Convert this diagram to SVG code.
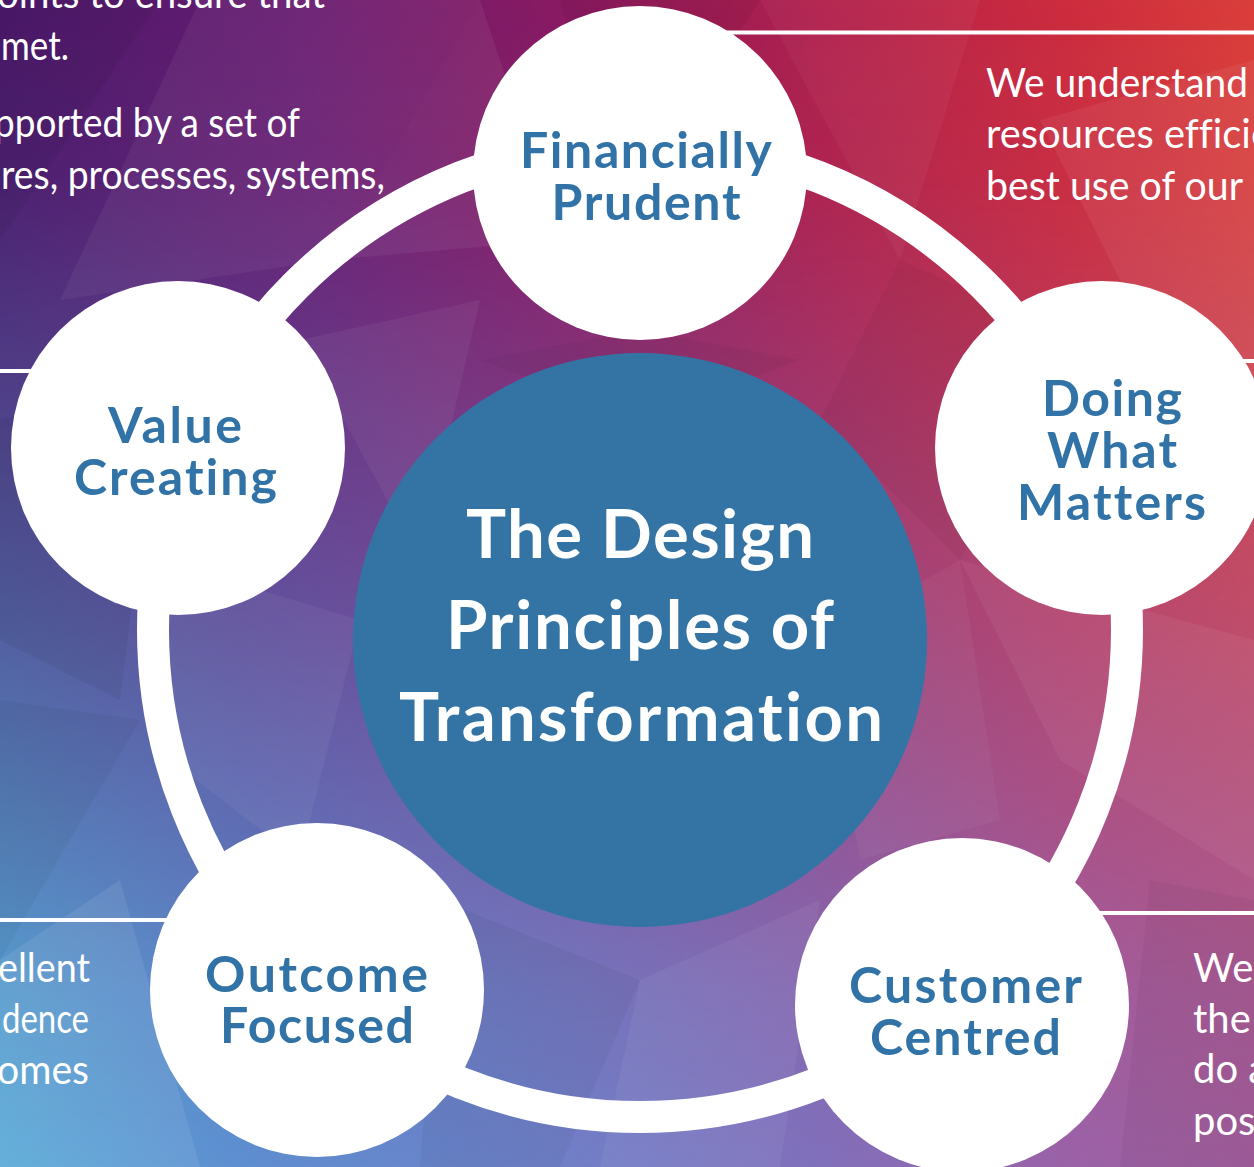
<svg xmlns="http://www.w3.org/2000/svg" width="1254" height="1167" viewBox="0 0 1254 1167">
  <defs>
    <linearGradient id="topRow" x1="0" y1="0" x2="1" y2="0">
      <stop offset="0" stop-color="#4c1a6c"/>
      <stop offset="0.25" stop-color="#6a1c70"/>
      <stop offset="0.45" stop-color="#8a1a62"/>
      <stop offset="0.65" stop-color="#b0204c"/>
      <stop offset="0.85" stop-color="#cc2c3e"/>
      <stop offset="1" stop-color="#da3e3a"/>
    </linearGradient>
    <linearGradient id="botRow" x1="0" y1="0" x2="1" y2="0">
      <stop offset="0" stop-color="#58aad8"/>
      <stop offset="0.2" stop-color="#5e8ed0"/>
      <stop offset="0.45" stop-color="#7080c8"/>
      <stop offset="0.65" stop-color="#8070bc"/>
      <stop offset="0.85" stop-color="#9a62a8"/>
      <stop offset="1" stop-color="#a25e9e"/>
    </linearGradient>
    <linearGradient id="vmask" x1="0" y1="0" x2="0" y2="1">
      <stop offset="0" stop-color="#fff" stop-opacity="0"/>
      <stop offset="0.15" stop-color="#fff" stop-opacity="0.05"/>
      <stop offset="0.55" stop-color="#fff" stop-opacity="0.5"/>
      <stop offset="0.85" stop-color="#fff" stop-opacity="0.9"/>
      <stop offset="1" stop-color="#fff" stop-opacity="1"/>
    </linearGradient>
    <mask id="m1">
      <rect x="0" y="0" width="1254" height="1167" fill="url(#vmask)"/>
    </mask>
    <style>
      text { font-variant-ligatures: none; font-feature-settings: "liga" 0; }
      .body { font-family: Lato, "Open Sans", "Liberation Sans", sans-serif; font-size: 40px; fill: #ffffff; }
      .lbl { font-family: Lato, "Open Sans", "Liberation Sans", sans-serif; font-weight: 700; font-size: 50px; fill: #3173a6; text-anchor: middle; }
      .ctr { font-family: Lato, "Open Sans", "Liberation Sans", sans-serif; font-weight: 700; font-size: 67px; fill: #ffffff; text-anchor: middle; }
      .node { fill: #ffffff; }
      .ring { fill: none; stroke: #ffffff; stroke-width: 32; }
      .rule { stroke: #ffffff; stroke-width: 4; }
      .fw { fill: #ffffff; }
      .fb { fill: #000000; }
    </style>
  </defs>

  <g id="background">
    <rect x="0" y="0" width="1254" height="1167" fill="url(#topRow)"/>
    <rect x="0" y="0" width="1254" height="1167" fill="url(#botRow)" mask="url(#m1)"/>
    <polygon class="fw" fill-opacity="0.05" points="60,300 200,0 480,0 330,260"/>
    <polygon class="fw" fill-opacity="0.06" points="330,260 480,0 560,240"/>
    <polygon class="fb" fill-opacity="0.05" points="560,0 760,0 620,220"/>
    <polygon class="fw" fill-opacity="0.04" points="760,0 980,0 900,260"/>
    <polygon class="fb" fill-opacity="0.05" points="0,0 160,0 0,240"/>
    <polygon class="fw" fill-opacity="0.06" points="1040,120 1254,60 1254,420 1130,300"/>
    <polygon class="fb" fill-opacity="0.04" points="900,260 1080,340 960,560 820,420"/>
    <polygon class="fw" fill-opacity="0.05" points="300,340 480,300 420,560"/>
    <polygon class="fb" fill-opacity="0.05" points="0,420 160,380 120,700 0,640"/>
    <polygon class="fw" fill-opacity="0.05" points="160,560 360,620 300,860 170,760"/>
    <polygon class="fb" fill-opacity="0.04" points="0,700 140,720 0,960"/>
    <polygon class="fw" fill-opacity="0.08" points="0,960 120,880 200,1167 0,1167"/>
    <polygon class="fb" fill-opacity="0.04" points="440,900 640,980 560,1167 420,1167"/>
    <polygon class="fw" fill-opacity="0.05" points="640,980 820,900 780,1167 600,1167"/>
    <polygon class="fw" fill-opacity="0.05" points="960,560 1254,640 1254,880 1060,760"/>
    <polygon class="fb" fill-opacity="0.04" points="1150,880 1254,900 1254,1167 1120,1167"/>
    <polygon class="fw" fill-opacity="0.04" points="820,640 960,560 1000,820 860,860"/>
    <polygon class="fb" fill-opacity="0.04" points="480,360 640,330 800,360 640,420"/>
  </g>

  <g id="body-text">
    <text class="body"><tspan x="-3" y="8" textLength="328" lengthAdjust="spacingAndGlyphs">oints to ensure that</tspan><tspan x="1" y="60" textLength="68" lengthAdjust="spacingAndGlyphs">met.</tspan><tspan x="-6" y="137" textLength="306" lengthAdjust="spacingAndGlyphs">pported by a set of</tspan><tspan x="1" y="189" textLength="384" lengthAdjust="spacingAndGlyphs">res, processes, systems,</tspan></text>
    <text class="body"><tspan x="986" y="97" textLength="262" lengthAdjust="spacingAndGlyphs">We understand</tspan><tspan x="986" y="148" textLength="286" lengthAdjust="spacingAndGlyphs">resources efficie</tspan><tspan x="986" y="200" textLength="257" lengthAdjust="spacingAndGlyphs">best use of our</tspan></text>
    <text class="body"><tspan x="-2" y="982" textLength="92" lengthAdjust="spacingAndGlyphs">ellent</tspan><tspan x="2" y="1033" textLength="87" lengthAdjust="spacingAndGlyphs">dence</tspan><tspan x="-3" y="1084" textLength="92" lengthAdjust="spacingAndGlyphs">omes</tspan></text>
    <text class="body"><tspan x="1193" y="982">We</tspan><tspan x="1193" y="1033">the</tspan><tspan x="1193" y="1083">do a</tspan><tspan x="1193" y="1135">pos</tspan></text>
  </g>

  <g id="connectors">
    <line class="rule" x1="640" y1="32.5" x2="1254" y2="32.5"/>
    <line class="rule" x1="0" y1="371" x2="178" y2="371"/>
    <line class="rule" x1="1102" y1="361" x2="1254" y2="361"/>
    <line class="rule" x1="0" y1="920" x2="317" y2="920"/>
    <line class="rule" x1="962" y1="913" x2="1254" y2="913"/>
    <circle class="ring" cx="640" cy="630" r="487"/>
  </g>

  <g id="center">
    <circle cx="640" cy="640" r="287" fill="#3474a5"/>
    <text class="ctr"><tspan x="640" y="558" textLength="348">The Design</tspan><tspan x="640" y="649" textLength="388">Principles of</tspan><tspan x="641" y="741" textLength="484">Transformation</tspan></text>
  </g>

  <g id="financially-prudent">
    <circle class="node" cx="640" cy="173" r="167"/>
    <text class="lbl"><tspan x="646" y="168" textLength="252">Financially</tspan><tspan x="646" y="220" textLength="189">Prudent</tspan></text>
  </g>

  <g id="value-creating">
    <circle class="node" cx="178" cy="448" r="167"/>
    <text class="lbl"><tspan x="175" y="443" textLength="134">Value</tspan><tspan x="175.5" y="495" textLength="203">Creating</tspan></text>
  </g>

  <g id="doing-what-matters">
    <circle class="node" cx="1102" cy="448" r="167"/>
    <text class="lbl"><tspan x="1112" y="416" textLength="140">Doing</tspan><tspan x="1112" y="468" textLength="130">What</tspan><tspan x="1111.5" y="520" textLength="189">Matters</tspan></text>
  </g>

  <g id="outcome-focused">
    <circle class="node" cx="317" cy="990" r="167"/>
    <text class="lbl"><tspan x="316.5" y="992" textLength="223">Outcome</tspan><tspan x="317" y="1043" textLength="194">Focused</tspan></text>
  </g>

  <g id="customer-centred">
    <circle class="node" cx="962" cy="1005" r="167"/>
    <text class="lbl"><tspan x="965.5" y="1003" textLength="233">Customer</tspan><tspan x="965.5" y="1055" textLength="191">Centred</tspan></text>
  </g>
</svg>
